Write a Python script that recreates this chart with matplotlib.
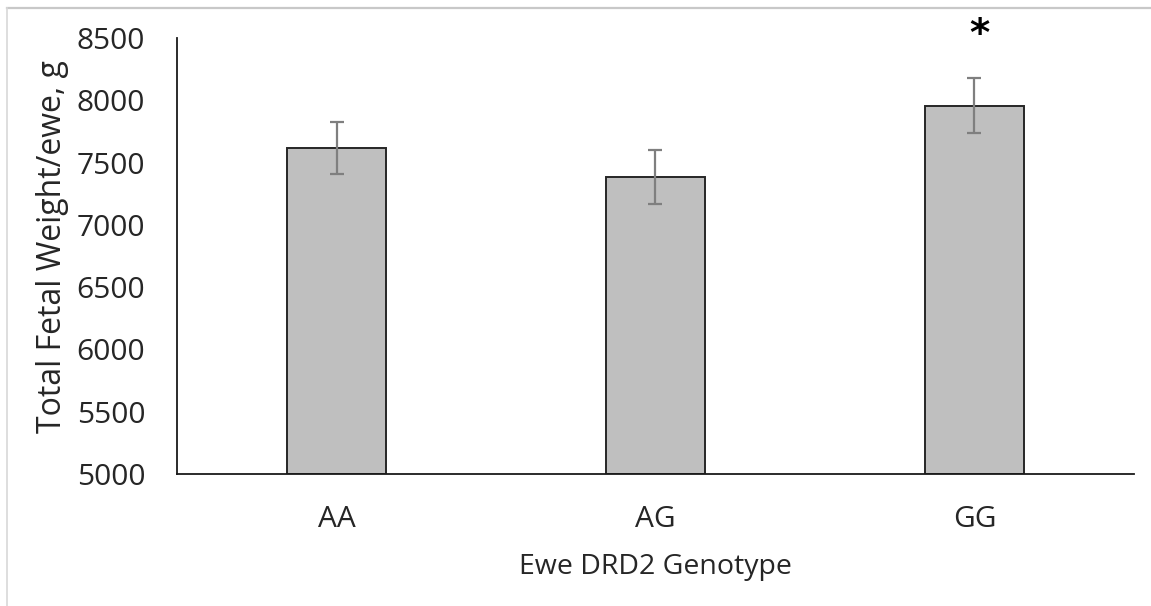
import matplotlib
matplotlib.use("Agg")
import matplotlib.pyplot as plt
from matplotlib.lines import Line2D

categories = ["AA", "AG", "GG"]
means = [7614, 7386, 7958]
errors = [208, 215, 218]
significance = ["", "", "*"]
y_ticks = [5000, 5500, 6000, 6500, 7000, 7500, 8000, 8500]

plt.rcParams['font.family'] = ['Open Sans', 'DejaVu Sans']

fig = plt.figure(figsize=(11.51, 6.06), dpi=100)
ax = fig.add_axes([0.1538, 0.2178, 0.9852 - 0.1538, 0.9373 - 0.2178])

x = list(range(len(categories)))
ax.bar(x, [m - 5000 for m in means], bottom=5000, width=0.31, color="#bfbfbf",
       edgecolor="#262626", linewidth=1.4, zorder=2)
ax.errorbar(x, means, yerr=errors, fmt='none', ecolor="#7f7f7f", elinewidth=1.6,
            capsize=4.7, capthick=1.6, zorder=3)

for xi, m, e, s in zip(x, means, errors, significance):
    if s:
        ax.annotate(s, xy=(xi, 8500), xytext=(3.5, 2), textcoords='offset points',
                    ha='center', va='center', fontsize=28, fontweight='bold',
                    family=['DejaVu Sans'], annotation_clip=False)

ax.set_xlim(-0.5, 2.5)
ax.set_ylim(5000, 8500)
ax.set_yticks(y_ticks)
ax.set_yticklabels([str(t) for t in y_ticks])
ax.set_xticks(x)
ax.set_xticklabels(categories)
ax.tick_params(axis='both', length=0, labelsize=21.5, colors="#262626")
ax.tick_params(axis='y', pad=23)
ax.tick_params(axis='x', pad=22)
for sp in ['top', 'right']:
    ax.spines[sp].set_visible(False)
for sp in ['left', 'bottom']:
    ax.spines[sp].set_linewidth(1.3)
    ax.spines[sp].set_color("#1a1a1a")

ax.set_xlabel("Ewe DRD2 Genotype", fontsize=20.5, color="#262626", va='center')
ax.xaxis.set_label_coords(0.5, -0.213)
ax.set_ylabel("Total Fetal Weight/ewe, g", fontsize=23, color="#262626", va='center')
ax.yaxis.set_label_coords(-0.1306, 0.522)

# outer frame lines (top and left)
fig.add_artist(Line2D([7/1151, 1], [1 - 8/606, 1 - 8/606], transform=fig.transFigure,
                      color="#c8c8c8", linewidth=1.6))
fig.add_artist(Line2D([7/1151, 7/1151], [0, 1 - 8/606], transform=fig.transFigure,
                      color="#d8d8d8", linewidth=1.2))

fig.savefig("out.png", dpi=100)
